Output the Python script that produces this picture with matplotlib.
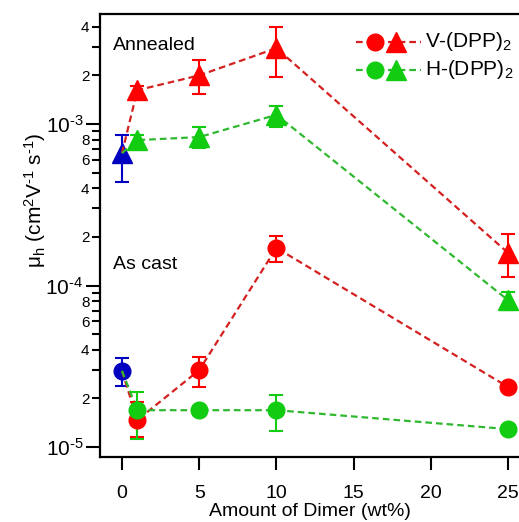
import numpy as np
import matplotlib
matplotlib.use("Agg")
import matplotlib.pyplot as plt
from matplotlib.ticker import FixedLocator, FixedFormatter

plt.rcParams["font.family"] = ["Liberation Sans", "DejaVu Sans"]
plt.rcParams["mathtext.fontset"] = "custom"
plt.rcParams["mathtext.rm"] = "Liberation Sans"
plt.rcParams["mathtext.it"] = "Liberation Sans"

# dimer content (wt%)
dimer = [1, 5, 10, 25]

# pure host (0 wt%), blue markers
pure_annealed = 6.6e-4
pure_annealed_err = (4.4e-4, 8.5e-4)
pure_cast = 2.96e-5
pure_cast_err = (2.38e-5, 3.56e-5)

# annealed, triangles
v_annealed = [1.62e-3, 2.0e-3, 2.95e-3, 1.59e-4]
v_annealed_lo = [1.48e-3, 1.54e-3, 1.95e-3, 1.13e-4]
v_annealed_hi = [1.72e-3, 2.5e-3, 4.0e-3, 2.08e-4]
h_annealed = [7.95e-4, 8.3e-4, 1.14e-3, 8.1e-5]
h_annealed_lo = [7.3e-4, 7.1e-4, 9.6e-4, 7.1e-5]
h_annealed_hi = [8.6e-4, 9.6e-4, 1.29e-3, 9.1e-5]

# as cast, circles
v_cast = [1.47e-5, 2.99e-5, 1.71e-4, 2.35e-5]
v_cast_lo = [1.15e-5, 2.35e-5, 1.40e-4, 2.35e-5]
v_cast_hi = [1.9e-5, 3.6e-5, 2.02e-4, 2.35e-5]
h_cast = [1.69e-5, 1.69e-5, 1.69e-5, 1.29e-5]
h_cast_lo = [1.12e-5, 1.69e-5, 1.26e-5, 1.29e-5]
h_cast_hi = [2.2e-5, 1.69e-5, 2.1e-5, 1.29e-5]

x_ticks = [0, 5, 10, 15, 20, 25]

red = "#ff0000"
red_line = "#d42020"
green = "#11cc11"
green_line = "#30b830"
blue = "#0000c0"
HY = "\u2010"  # plain hyphen for the superscripts


def yerr(vals, lo, hi):
    v = np.array(vals)
    return np.vstack([v - np.array(lo), np.array(hi) - v])


fig = plt.figure(figsize=(5.19, 5.22), dpi=100)
ax = fig.add_axes([100 / 519, 1 - 457 / 522, 1 - 100 / 519, (457 - 14) / 522])

ax.set_yscale("log")
ax.set_xlim(-1.42, 25.7)
ax.set_ylim(8.67e-6, 4.8e-3)

# pure material at 0 wt%
ax.errorbar([0], [pure_annealed],
            yerr=[[pure_annealed - pure_annealed_err[0]], [pure_annealed_err[1] - pure_annealed]],
            fmt="^", ms=14, color=blue, ecolor=blue, elinewidth=1.5, capsize=5, capthick=1.5, zorder=2)
ax.errorbar([0], [pure_cast],
            yerr=[[pure_cast - pure_cast_err[0]], [pure_cast_err[1] - pure_cast]],
            fmt="o", ms=12, color=blue, ecolor=blue, elinewidth=1.5, capsize=5, capthick=1.5, zorder=2)

series = [
    (v_annealed, v_annealed_lo, v_annealed_hi, pure_annealed, "^", red, red_line),
    (h_annealed, h_annealed_lo, h_annealed_hi, pure_annealed, "^", green, green_line),
    (v_cast, v_cast_lo, v_cast_hi, pure_cast, "o", red, red_line),
    (h_cast, h_cast_lo, h_cast_hi, pure_cast, "o", green, green_line),
]

for vals, lo, hi, start, mk, col, lcol in series:
    ax.plot([0] + dimer, [start] + vals, ls=(0, (3, 1.8)), lw=1.6, color=lcol, zorder=3)
    ax.errorbar(dimer, vals, yerr=yerr(vals, lo, hi), fmt=mk, ms=14 if mk == "^" else 12,
                color=col, ecolor=col, elinewidth=1.5, capsize=5, capthick=1.5, zorder=4)

# y ticks: decades labelled 10^n, minors 2,4,6,8 labelled
ax.yaxis.set_major_locator(FixedLocator([1e-5, 1e-4, 1e-3]))
ax.yaxis.set_major_formatter(FixedFormatter(["10$^{%s5}$" % HY, "10$^{%s4}$" % HY, "10$^{%s3}$" % HY]))
minor_vals = []
minor_labels = []
for dec in [1e-5, 1e-4, 1e-3]:
    for m in range(2, 10):
        v = m * dec
        if v > 4.8e-3:
            continue
        minor_vals.append(v)
        minor_labels.append(str(m) if m in (2, 4, 6, 8) else "")
ax.yaxis.set_minor_locator(FixedLocator(minor_vals))
ax.yaxis.set_minor_formatter(FixedFormatter(minor_labels))

ax.set_xticks(x_ticks)
ax.tick_params(axis="x", which="major", length=9, width=1.5, labelsize=14, pad=11, direction="out")
ax.tick_params(axis="y", which="major", length=10, width=1.5, labelsize=15, pad=2)
ax.tick_params(axis="y", which="minor", length=5.5, width=1.5, labelsize=11, pad=2)

for s in ["left", "bottom", "top"]:
    ax.spines[s].set_linewidth(1.6)
ax.spines["right"].set_visible(False)

ax.set_xlabel("Amount of Dimer (wt%)", fontsize=14, labelpad=1)
ax.set_ylabel("\u03bc$_h$ (cm$^2$V$^{%s1}$ s$^{%s1}$)" % (HY, HY), fontsize=15)
ax.yaxis.set_label_coords(-0.125, 0.58)

ax.text(0.03, 0.93, "Annealed", transform=ax.transAxes, fontsize=14, va="center")
ax.text(0.03, 0.435, "As cast", transform=ax.transAxes, fontsize=14, va="center")

# legend drawn by hand
for yl, col, lcol, lab in [(0.937, red, red_line, "V-(DPP)$_2$"), (0.874, green, green_line, "H-(DPP)$_2$")]:
    ax.plot([0.61, 0.765], [yl, yl], transform=ax.transAxes, ls=(0, (3, 1.8)), lw=1.6, color=lcol, clip_on=False)
    ax.plot([0.657], [yl], "o", ms=12, color=col, transform=ax.transAxes, clip_on=False)
    ax.plot([0.707], [yl], "^", ms=14, color=col, transform=ax.transAxes, clip_on=False)
    ax.text(0.775, yl, lab, transform=ax.transAxes, fontsize=15, va="center")

fig.savefig("out.png", dpi=100)
